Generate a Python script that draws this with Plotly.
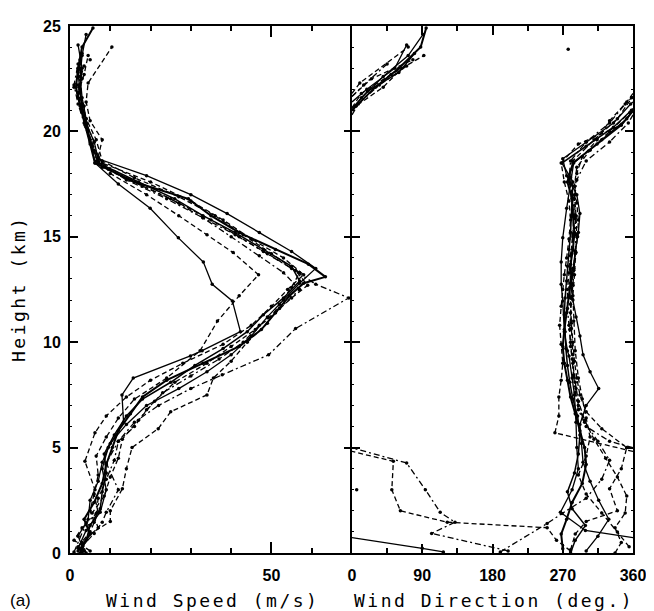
import plotly.graph_objects as go

# ---- soundings: height (km), wind speed (m/s), wind direction (deg) ----
h1 = [0.2, 0.9, 1.6, 2.4, 3.3, 4.2, 5.0, 5.8, 6.6, 7.4, 8.2, 9.0, 9.8, 10.6, 11.4, 12.2, 12.8, 13.1, 13.7, 14.4, 15.2, 16.0, 16.8, 17.6, 18.5, 19.4, 20.3, 21.2, 22.1, 23.0, 24.0, 24.9]
spd1 = [2.5, 5.0, 3.5, 6.0, 8.0, 9.0, 10.5, 12.0, 15.0, 18.0, 24.0, 33.0, 42.0, 47.5, 51.0, 54.5, 58.0, 63.4, 59.2, 51.0, 42.0, 35.0, 29.4, 16.0, 6.2, 5.0, 3.7, 2.5, 1.5, 2.0, 3.0, 5.7]
dir1 = [270, 268, 275, 282, 295, 300, 298, 292, 286, 280, 276, 272, 270, 272, 275, 278, 280, 281, 280, 283, 285, 283, 282, 276, 283, 314, 345, 5, 30, 60, 88, 95]

h2 = [0.05, 0.22, 1.07, 1.93, 3.0, 4.0, 5.0, 6.2, 7.5, 8.3, 9.35, 9.6, 10.5, 11.96, 12.75, 13.8, 14.95, 16.35, 17.5, 18.5, 19.6, 20.6, 21.6, 22.6, 23.6, 24.6]
spd2 = [3.0, 2.0, 4.0, 7.5, 9.0, 8.0, 9.5, 13.3, 12.9, 15.7, 29.9, 32.8, 42.3, 40.3, 35.3, 33.1, 26.9, 19.9, 12.0, 6.2, 5.0, 4.0, 3.0, 2.5, 3.0, 4.0]
dir2 = [117, 90, 299, 267, 282, 290, 288, 287, 285, 282, 278, 276, 272, 270, 268, 268, 270, 275, 280, 284, 320, 352, 12, 40, 72, 91]

h3 = [0.05, 1.4, 1.87, 2.6, 3.5, 4.4, 5.3, 6.2, 7.0, 7.8, 8.45, 9.4, 10.65, 12.1, 12.75, 13.5, 14.3, 15.1, 15.9, 16.8, 17.7, 18.6, 19.5, 20.4, 21.3, 22.2, 23.1]
spd3 = [1.0, 4.0, 6.5, 7.0, 9.0, 11.0, 12.0, 16.0, 22.0, 30.0, 37.8, 49.3, 56.0, 69.2, 61.0, 55.0, 48.0, 41.0, 33.0, 25.0, 15.0, 7.0, 6.0, 4.0, 3.0, 2.0, 3.5]
dir3 = [190, 250, 269, 300, 320, 330, 315, 298, 290, 287, 284, 283, 281, 280, 282, 284, 286, 287, 286, 285, 288, 300, 330, 354, 8, 35, 70]

h4 = [0.3, 1.0, 1.9, 2.8, 3.7, 4.6, 5.5, 6.4, 7.3, 8.3, 9.6, 11.0, 12.2, 13.2, 14.25, 15.1, 16.0, 17.0, 18.0, 18.8, 19.6, 20.5, 21.4, 22.3, 24.0]
spd4 = [2.0, 5.0, 7.0, 6.0, 7.0, 6.5, 9.0, 12.0, 16.0, 24.0, 32.3, 36.6, 42.0, 46.8, 40.5, 34.0, 27.0, 19.0, 10.0, 7.0, 8.0, 5.0, 4.0, 4.5, 10.4]
dir4 = [355, 340, 320, 300, 290, 300, 305, 300, 295, 290, 286, 284, 283, 285, 287, 288, 287, 285, 288, 295, 314, 330, 352, 10, 72]

h5 = [0.15, 0.9, 1.5, 2.0, 3.05, 4.0, 5.0, 5.9, 6.7, 7.5, 8.3, 9.1, 10.0, 10.9, 11.8, 12.6, 13.3, 14.2, 15.1, 16.0, 16.9, 17.8, 18.6, 19.6, 20.6, 21.6, 22.5, 23.4]
spd5 = [3.0, 5.0, 10.0, 10.0, 13.0, 14.0, 15.4, 21.9, 25.0, 34.0, 35.6, 40.0, 44.0, 49.0, 52.0, 55.0, 57.0, 50.0, 43.0, 36.0, 27.0, 16.0, 8.0, 6.5, 4.0, 2.0, 3.0, 2.5]
dir5 = [280, 286, 300, 340, 330, 345, 352, 320, 300, 292, 288, 285, 283, 281, 280, 279, 280, 281, 283, 284, 282, 280, 283, 310, 340, 358, 25, 78]

h6 = [0.1, 0.8, 1.6, 2.5, 3.4, 4.3, 5.2, 6.1, 7.0, 7.8, 8.6, 9.4, 10.3, 11.2, 12.0, 12.8, 13.5, 14.3, 15.2, 16.1, 17.0, 17.9, 18.7, 19.5, 20.4, 21.3, 22.0, 23.0, 24.1]
spd6 = [3.5, 2.0, 4.5, 5.0, 7.0, 8.0, 10.0, 14.0, 19.0, 27.0, 34.0, 40.0, 45.0, 49.0, 53.0, 57.0, 61.0, 55.0, 47.0, 39.0, 30.0, 19.0, 7.0, 6.0, 4.0, 3.0, 2.5, 3.0, 2.0]
dir6 = [300, 315, 329, 316, 305, 296, 294, 292, 300, 316, 305, 296, 292, 287, 283, 281, 283, 286, 290, 292, 288, 275, 270, 300, 335, 357, 19, 55, 70]

h7 = [0.1, 0.6, 1.2, 1.46, 2.0, 3.0, 4.35, 5.7, 6.5, 7.4, 8.2, 9.0, 9.9, 10.8, 11.7, 12.5, 13.2, 14.0, 14.9, 15.8, 16.7, 17.6, 18.5, 19.4, 20.3, 21.2, 22.1, 23.0]
spd7 = [5.0, 1.0, 3.0, 6.0, 5.0, 6.2, 3.7, 6.2, 9.0, 14.0, 20.0, 28.0, 38.0, 45.0, 50.0, 54.0, 58.0, 53.0, 45.0, 38.0, 30.0, 20.0, 8.0, 5.5, 4.0, 3.5, 1.0, 2.5]
dir7 = [280, 262, 250, 122, 62, 51, 53, 260, 265, 265, 268, 270, 268, 266, 268, 270, 272, 275, 278, 280, 278, 272, 268, 290, 345, 5, 40, 64]

h8 = [0.1, 0.93, 1.46, 1.93, 3.0, 4.27, 5.3, 6.0, 6.8, 7.6, 8.4, 9.2, 10.0, 10.8, 11.6, 12.5, 13.3, 14.1, 15.0, 15.9, 16.8, 17.7, 18.6, 19.5, 20.4, 21.3, 22.2, 23.2]
spd8 = [2.0, 6.0, 8.0, 9.0, 12.0, 9.0, 12.0, 16.0, 19.0, 23.0, 30.0, 37.0, 43.0, 47.0, 52.0, 57.0, 53.0, 47.0, 40.0, 33.0, 24.0, 14.0, 6.5, 5.0, 3.5, 2.0, 1.0, 2.0]
dir8 = [200, 102, 132, 113, 94, 70, 330, 300, 290, 286, 284, 282, 280, 278, 276, 276, 278, 280, 283, 285, 283, 278, 280, 300, 330, 350, 15, 45]

h9 = [0.0, 0.5, 1.2, 1.9, 2.7, 3.6, 4.5, 5.4, 6.3, 7.2, 8.1, 9.0, 9.8, 10.6, 11.4, 12.1, 12.7, 13.4, 14.2, 15.0, 15.8, 16.6, 17.4, 18.3, 19.1, 20.0, 20.9, 21.8, 22.7, 23.6]
spd9 = [4.0, 3.0, 7.0, 5.5, 8.5, 10.0, 12.0, 13.0, 17.0, 21.0, 26.0, 34.0, 40.0, 46.0, 51.0, 55.0, 59.0, 56.0, 49.0, 42.0, 35.0, 27.0, 18.0, 8.0, 6.0, 4.5, 3.0, 2.0, 3.5, 4.5]
dir9 = [337, 345, 337, 350, 352, 340, 325, 310, 298, 290, 286, 283, 280, 279, 280, 281, 283, 284, 286, 289, 290, 288, 285, 288, 305, 330, 356, 12, 50, 92]

h10 = [0.0, 0.6, 1.3, 2.1, 2.9, 3.8, 4.7, 5.6, 6.5, 7.3, 8.1, 8.9, 9.7, 10.5, 11.3, 12.1, 12.9, 13.6, 14.4, 15.2, 16.0, 16.8, 17.6, 18.5, 19.3, 20.2, 21.0, 21.9, 22.8, 23.7]
spd10 = [2.5, 4.0, 5.0, 7.5, 8.0, 9.0, 8.5, 11.0, 14.0, 18.0, 25.0, 31.0, 38.0, 44.0, 48.0, 53.0, 57.0, 55.0, 48.0, 41.0, 33.0, 26.0, 17.0, 7.0, 5.5, 4.0, 3.0, 2.5, 2.0, 3.0]
dir10 = [280, 286, 299, 282, 276, 285, 290, 292, 289, 283, 279, 276, 274, 273, 272, 273, 275, 276, 278, 280, 281, 282, 283, 269, 300, 335, 358, 20, 60, 80]

# isolated plotted points
stray_spd = [5.0]
stray_spd_h = [23.4]
stray_dir = [277, 6]
stray_dir_h = [23.9, 3.0]

x_ticks_speed = [0, 50]
x_ticks_dir = [0, 90, 180, 270, 360]
y_ticks = [0, 5, 10, 15, 20, 25]

soundings = [
    (h1, spd1, dir1, "solid", 2.0),
    (h2, spd2, dir2, "solid", 1.3),
    (h3, spd3, dir3, "6px,3px,2px,3px", 1.3),
    (h4, spd4, dir4, "5px,3px", 1.3),
    (h5, spd5, dir5, "5px,3px", 1.3),
    (h6, spd6, dir6, "solid", 1.3),
    (h7, spd7, dir7, "5px,3px", 1.3),
    (h8, spd8, dir8, "6px,3px,2px,3px", 1.3),
    (h9, spd9, dir9, "5px,3px", 1.3),
    (h10, spd10, dir10, "solid", 1.5),
]


def wrap_path(d, h):
    """Split a direction profile where it wraps across 0/360 deg."""
    xs, ys = [d[0]], [h[0]]
    for i in range(1, len(d)):
        d1, d2, h1_, h2_ = d[i - 1], d[i], h[i - 1], h[i]
        if abs(d2 - d1) > 180:
            if d1 > d2:  # crossing 360 -> 0
                frac = (360 - d1) / ((d2 + 360) - d1)
                hc = h1_ + frac * (h2_ - h1_)
                xs += [360, None, 0]
                ys += [hc, None, hc]
            else:  # crossing 0 -> 360
                frac = d1 / (d1 + 360 - d2)
                hc = h1_ + frac * (h2_ - h1_)
                xs += [0, None, 360]
                ys += [hc, None, hc]
        xs.append(d2)
        ys.append(h2_)
    return xs, ys


fig = go.Figure()
for h, s, d, dash, w in soundings:
    fig.add_trace(go.Scatter(x=s, y=h, mode="lines+markers", xaxis="x", yaxis="y",
                             line=dict(color="black", width=w, dash=dash),
                             marker=dict(color="black", size=3.5), showlegend=False,
                             hoverinfo="skip"))
    xs, ys = wrap_path(d, h)
    fig.add_trace(go.Scatter(x=xs, y=ys, mode="lines", xaxis="x2", yaxis="y2",
                             line=dict(color="black", width=w, dash=dash),
                             showlegend=False, hoverinfo="skip", connectgaps=False))
    fig.add_trace(go.Scatter(x=d, y=h, mode="markers", xaxis="x2", yaxis="y2",
                             marker=dict(color="black", size=3.5), showlegend=False,
                             hoverinfo="skip"))

fig.add_trace(go.Scatter(x=stray_spd, y=stray_spd_h, mode="markers", xaxis="x", yaxis="y",
                         marker=dict(color="black", size=3.5), showlegend=False))
fig.add_trace(go.Scatter(x=stray_dir, y=stray_dir_h, mode="markers", xaxis="x2", yaxis="y2",
                         marker=dict(color="black", size=3.5), showlegend=False))

tickfont = dict(family="Liberation Sans", size=16, color="black", weight="bold")
base = dict(showgrid=False, zeroline=False, linecolor="black", tickcolor="black",
            tickwidth=1.5)
minor_y = dict(dtick=1, ticklen=2, ticks="inside", tickcolor="black", tickwidth=1)

split = (352 - 70) / 563

# the page body adds an 8px offset, so the plot area is placed 8px up/left
fig.update_layout(
    width=654, height=611,
    margin=dict(l=62, r=29, t=10, b=66),
    paper_bgcolor="white", plot_bgcolor="white",
    xaxis=dict(domain=[0, split], range=[0, 70], tickvals=x_ticks_speed,
               ticktext=[str(v) for v in x_ticks_speed], ticklen=11, linewidth=2,
               showline=True, mirror="ticks", ticks="inside",
               minor=dict(tickvals=[10, 20, 30, 40, 60], ticklen=5, ticks="inside",
                          tickcolor="black", tickwidth=1.5),
               tickfont=tickfont, ticklabelstandoff=7, anchor="y", **base),
    # left panel: left line + inward ticks only
    yaxis=dict(domain=[0, 1], range=[0, 25], tickvals=y_ticks,
               ticktext=[str(v) for v in y_ticks], ticklen=8, linewidth=2,
               showline=True, mirror=False, ticks="inside", minor=minor_y,
               tickfont=tickfont, ticklabelstandoff=4, anchor="x", **base),
    # left panel: right-side ticks (no line), pointing into the left panel
    yaxis3=dict(domain=[0, 1], range=[0, 25], tickvals=y_ticks, showticklabels=False,
                overlaying="y", side="right", anchor="x", ticklen=8, showline=False,
                ticks="inside", minor=minor_y, **base),
    xaxis2=dict(domain=[split, 1], range=[0, 360], tickvals=x_ticks_dir,
                ticktext=[str(v) for v in x_ticks_dir], ticklen=9, linewidth=2,
                showline=True, mirror="ticks", ticks="inside",
                minor=dict(tickvals=[45, 135, 225, 315], ticklen=5, ticks="inside",
                           tickcolor="black", tickwidth=1.5),
                tickfont=tickfont, ticklabelstandoff=7, anchor="y2", **base),
    # right panel: middle line + right frame line, ticks inward on both
    yaxis2=dict(domain=[0, 1], range=[0, 25], tickvals=y_ticks, showticklabels=False,
                ticklen=8, linewidth=2, showline=True, mirror="ticks", ticks="inside",
                minor=minor_y, anchor="x2", **base),
)

# invisible trace so the overlaying tick axis is drawn
fig.add_trace(go.Scatter(x=[None], y=[None], xaxis="x", yaxis="y3", showlegend=False,
                         hoverinfo="skip"))

title_font = dict(family="DejaVu Sans Mono", size=18, color="black")
sp = '<span style="letter-spacing:2.5px">{}</span>'
ty = (553 - 601) / 535
fig.add_annotation(text=sp.format("Wind Speed (m/s)"), xref="paper", yref="paper",
                   x=(212 - 70) / 563, y=ty, showarrow=False,
                   xanchor="center", yanchor="middle", font=title_font)
fig.add_annotation(text=sp.format("Wind Direction (deg.)"), xref="paper", yref="paper",
                   x=(494 - 70) / 563, y=ty, showarrow=False,
                   xanchor="center", yanchor="middle", font=title_font)
fig.add_annotation(text=sp.format("Height (km)"), xref="paper", yref="paper",
                   x=(18 - 70) / 563, y=(553 - 285) / 535, showarrow=False, textangle=-90,
                   xanchor="center", yanchor="middle", font=title_font)
fig.add_annotation(text="(a)", xref="paper", yref="paper",
                   x=(8 - 70) / 563, y=ty, showarrow=False,
                   xanchor="left", yanchor="middle",
                   font=dict(family="Liberation Sans", size=17, color="black"))

fig.write_html("out.html")
